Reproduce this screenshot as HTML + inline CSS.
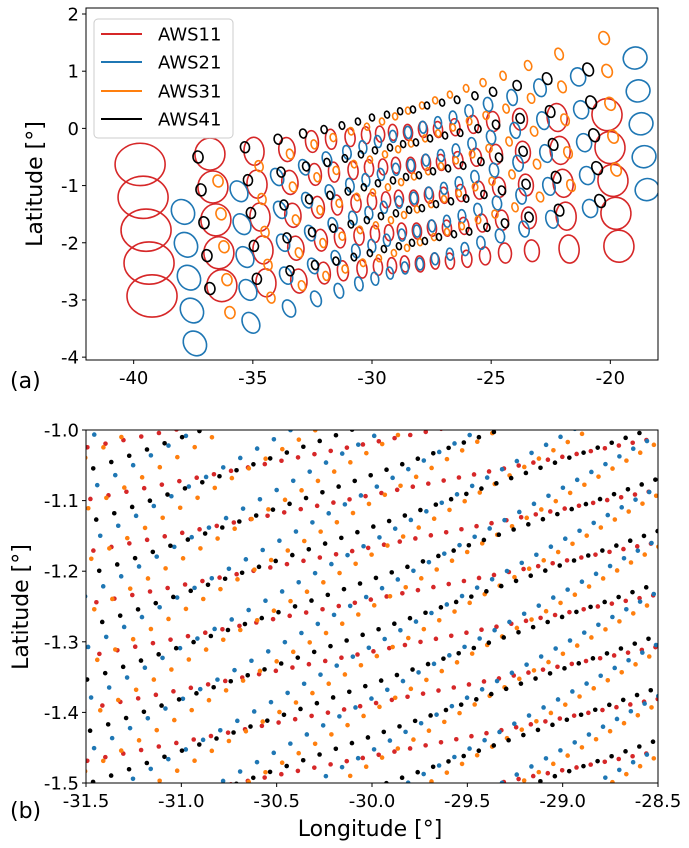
<!DOCTYPE html>
<html><head><meta charset="utf-8"><style>
html,body{margin:0;padding:0;background:#fff}
svg{display:block;font-family:"DejaVu Sans","Liberation Sans",sans-serif}
</style></head><body>
<svg id="fig" xmlns="http://www.w3.org/2000/svg" width="689" height="848" viewBox="0 0 689 848">
<defs>
<clipPath id="clipA"><rect x="86" y="8" width="572" height="352"/></clipPath>
<clipPath id="clipB"><rect x="86" y="430" width="572" height="353"/></clipPath>
</defs>
<rect x="0" y="0" width="689" height="848" fill="#fff"/>
<g id="panelA">
<g id="marksA" clip-path="url(#clipA)"></g>
<rect x="86" y="8" width="572" height="352" fill="none" stroke="#000" stroke-width="1"/>
<g id="ticksA"></g>
<text x="36" y="184" font-size="22" text-anchor="middle" transform="rotate(-90 36 184)" dominant-baseline="middle">Latitude [°]</text>
<text x="10" y="388" font-size="22">(a)</text>
<g>
<rect x="94" y="19" width="139" height="119" rx="4" fill="#fff" fill-opacity="0.85" stroke="#ccc" stroke-width="1"/>
<line x1="101" y1="34" x2="142" y2="34" stroke="#d62728" stroke-width="2"/>
<text x="158" y="40.5" font-size="18">AWS11</text>
<line x1="101" y1="62" x2="142" y2="62" stroke="#1f77b4" stroke-width="2"/>
<text x="158" y="68.5" font-size="18">AWS21</text>
<line x1="101" y1="91" x2="142" y2="91" stroke="#ff7f0e" stroke-width="2"/>
<text x="158" y="97.5" font-size="18">AWS31</text>
<line x1="101" y1="119" x2="142" y2="119" stroke="#000" stroke-width="2"/>
<text x="158" y="125.5" font-size="18">AWS41</text>
</g>
</g>
<g id="panelB">
<g id="marksB" clip-path="url(#clipB)"></g>
<rect x="86" y="430" width="572" height="353" fill="none" stroke="#000" stroke-width="1"/>
<g id="ticksB"></g>
<text x="22" y="607" font-size="22" text-anchor="middle" transform="rotate(-90 22 607)" dominant-baseline="middle">Latitude [°]</text>
<text x="370" y="836" font-size="22" text-anchor="middle">Longitude [°]</text>
<text x="10" y="818" font-size="22">(b)</text>
</g>
</svg>
<script>
// ---------- Panel (a) data: per-column footprint centre of top row, semi-axes (deg), tilt (deg)
const red_lon = [-39.73,-36.80,-34.95,-33.57,-32.52,-31.72,-30.92,-30.25,-29.66,-29.12,-28.49,-27.86,-27.23,-26.52,-25.76,-24.92,-23.79,-22.23,-20.14];
const red_lat = [-0.63,-0.45,-0.40,-0.37,-0.23,-0.19,-0.16,-0.12,-0.10,-0.07,-0.07,-0.02,-0.02,0.02,0.07,0.12,0.16,0.19,0.24];
const red_rx = [1.05,0.63,0.42,0.34,0.27,0.23,0.21,0.19,0.19,0.19,0.19,0.19,0.19,0.21,0.23,0.27,0.31,0.42,0.63];
const red_ry = [0.37,0.28,0.245,0.21,0.19,0.175,0.157,0.149,0.14,0.14,0.14,0.14,0.14,0.149,0.157,0.175,0.19,0.245,0.28];
const red_tilt = [0,0,3,5,5,5,5,5,5,5,5,5,5,5,5,5,5,5,5];

const blue_lon = [-37.93,-35.58,-33.98,-32.85,-31.89,-31.05,-30.38,-29.75,-29.12,-28.49,-27.86,-27.23,-26.60,-25.93,-25.13,-24.12,-22.95,-21.35,-18.96];
const blue_lat = [-1.46,-1.10,-0.85,-0.68,-0.54,-0.42,-0.33,-0.23,-0.14,-0.07,0.02,0.10,0.19,0.30,0.42,0.54,0.71,0.90,1.23];
const blue_rx = [0.46,0.34,0.25,0.21,0.19,0.17,0.16,0.147,0.147,0.147,0.147,0.147,0.16,0.17,0.19,0.21,0.25,0.31,0.5];
const blue_ry = [0.227,0.192,0.157,0.14,0.131,0.122,0.114,0.105,0.105,0.105,0.105,0.105,0.114,0.114,0.122,0.14,0.157,0.16,0.192];
const blue_tilt = [35,30,25,20,15,12,10,8,5,5,5,5,5,8,10,12,15,15,15];

const orange_lon = [-36.46,-34.74,-33.44,-32.43,-31.63,-30.88,-30.21,-29.58,-29.03,-28.49,-27.90,-27.35,-26.73,-26.05,-25.34,-24.50,-23.45,-22.15,-20.26];
const orange_lat = [-0.92,-0.66,-0.45,-0.28,-0.16,-0.05,0.03,0.12,0.21,0.31,0.40,0.49,0.59,0.70,0.80,0.92,1.10,1.30,1.58];
const orange_rx = [0.21,0.168,0.147,0.126,0.126,0.113,0.105,0.105,0.105,0.105,0.105,0.105,0.105,0.113,0.126,0.126,0.147,0.168,0.21];
const orange_ry = [0.105,0.096,0.087,0.079,0.07,0.066,0.061,0.061,0.061,0.061,0.061,0.061,0.061,0.066,0.07,0.079,0.087,0.105,0.117];
const orange_tilt = [15,15,15,12,10,10,10,10,10,10,10,10,10,10,12,15,18,20,22];

const black_lon = [-37.30,-35.33,-33.94,-32.89,-32.01,-31.26,-30.59,-30.00,-29.37,-28.82,-28.28,-27.69,-27.06,-26.43,-25.68,-24.92,-23.91,-22.65,-20.93];
const black_lat = [-0.50,-0.33,-0.19,-0.09,-0.02,0.05,0.12,0.19,0.24,0.30,0.33,0.40,0.45,0.50,0.57,0.64,0.75,0.87,1.03];
const black_rx = [0.21,0.19,0.168,0.147,0.126,0.113,0.105,0.105,0.105,0.105,0.105,0.105,0.105,0.113,0.126,0.147,0.168,0.19,0.21];
const black_ry = [0.105,0.096,0.087,0.079,0.07,0.066,0.061,0.061,0.061,0.061,0.061,0.061,0.061,0.066,0.07,0.079,0.087,0.105,0.117];
const black_tilt = [10,10,12,12,12,12,12,12,12,12,12,12,12,15,15,18,20,22,25];

const rowCount = 5;
const rowDLat = -0.575;
const rowDLon = 0.125;

const xTicksA = [-40,-35,-30,-25,-20];
const yTicksA = [-4,-3,-2,-1,0,1,2];

// ---------- Panel (b) data: scan-line lattice
const b_startLat = [-1.0989,-1.087,-1.1127,-1.058];   // AWS11, AWS21, AWS31, AWS41 at lon -31.5
const b_phaseLon = [-31.477,-31.441,-31.488,-31.462];
const b_slope = [0.054,0.15,0.155,0.095];
const b_lineSpacing = [0.074,0.074,0.074,0.074];
const b_lineLonShift = [0.0157,0.0157,0.0157,0.0157];
const b_stepLeft = [0.095,0.095,0.095,0.095];
const b_stepRight = [0.071,0.071,0.071,0.071];

const xTicksB = [-31.5,-31.0,-30.5,-30.0,-29.5,-29.0,-28.5];
const yTicksB = [-1.5,-1.4,-1.3,-1.2,-1.1,-1.0];

const colors = ['#d62728','#1f77b4','#ff7f0e','#000000'];
const seriesKeys = ['aws11','aws21','aws31','aws41'];

const NS='http://www.w3.org/2000/svg';
function mk(tag){return document.createElementNS(NS,tag);}

// axis functions
const xA = lon => 86 + (lon + 42) * 572 / 24;
const yA = lat => 8 + (2.105 - lat) * 57.19;
const sxA = 572/24, syA = 57.19;
const xB = lon => 86 + (lon + 31.5) * 572 / 3;
const yB = lat => 430 + (-1 - lat) * 706;

// ---- panel a marks
const gA = document.getElementById('marksA');
const seriesA = [
 [red_lon,red_lat,red_rx,red_ry,red_tilt],
 [blue_lon,blue_lat,blue_rx,blue_ry,blue_tilt],
 [orange_lon,orange_lat,orange_rx,orange_ry,orange_tilt],
 [black_lon,black_lat,black_rx,black_ry,black_tilt]
];
seriesA.forEach((s,si)=>{
  const g = mk('g');
  
  
  const [lo,la,rx,ry,tl] = s;
  for(let c=0;c<lo.length;c++){
    for(let r=0;r<rowCount;r++){
      const e = mk('ellipse');
      
      
      const cx = xA(lo[c] + r*rowDLon), cy = yA(la[c] + r*rowDLat);
      e.setAttribute('cx', cx.toFixed(2));
      e.setAttribute('cy', cy.toFixed(2));
      e.setAttribute('rx', (rx[c]*sxA).toFixed(2));
      e.setAttribute('ry', (ry[c]*syA).toFixed(2));
      e.setAttribute('transform', 'rotate(' + (-tl[c]) + ' ' + cx.toFixed(2) + ' ' + cy.toFixed(2) + ')');
      e.setAttribute('fill', 'none');
      e.setAttribute('stroke', colors[si]);
      e.setAttribute('stroke-width', '1.6');
      g.appendChild(e);
    }
  }
  gA.appendChild(g);
});

// ---- panel b marks
const gB = document.getElementById('marksB');
for(let si=0;si<4;si++){
  const g = mk('g');
  
  
  const maxJ = Math.ceil((0.5 + b_slope[si]*3 + 0.12) / b_lineSpacing[si]) + 1;
  for(let j=-1;j<=maxJ;j++){
    const lat0 = b_startLat[si] - j*b_lineSpacing[si];
    let step0 = b_stepLeft[si];
    let lon = b_phaseLon[si] + ((j*b_lineLonShift[si]) % step0 + step0) % step0;
    while(lon - step0 > -31.56) lon -= step0;
    while(lon < -28.44){
      const lat = lat0 + b_slope[si]*(lon + 31.5);
      if(lat <= -0.99 && lat >= -1.51){
        const d = mk('circle');
        
        
        d.setAttribute('cx', xB(lon).toFixed(2));
        d.setAttribute('cy', yB(lat).toFixed(2));
        d.setAttribute('r', '2.3');
        d.setAttribute('fill', colors[si]);
        g.appendChild(d);
      }
      const f = (lon + 31.5)/3;
      lon += b_stepLeft[si] + (b_stepRight[si]-b_stepLeft[si])*Math.max(0,Math.min(1,f));
    }
  }
  gB.appendChild(g);
}

// ---- ticks
function ticks(gid, xt, yt, xf, yf, bottom, left, fmt){
  const g = document.getElementById(gid);
  xt.forEach(v=>{
    const x = xf(v);
    const l = mk('line');
    
    
    l.setAttribute('x1', x); l.setAttribute('x2', x);
    l.setAttribute('y1', bottom); l.setAttribute('y2', bottom + 4);
    l.setAttribute('stroke', '#000');
    g.appendChild(l);
    const t = mk('text');
    
    
    t.setAttribute('x', x); t.setAttribute('y', bottom + 24);
    t.setAttribute('font-size', '18');
    t.setAttribute('text-anchor', 'middle');
    t.textContent = fmt(v);
    g.appendChild(t);
  });
  yt.forEach(v=>{
    const y = yf(v);
    const l = mk('line');
    
    
    l.setAttribute('x1', left - 4); l.setAttribute('x2', left);
    l.setAttribute('y1', y); l.setAttribute('y2', y);
    l.setAttribute('stroke', '#000');
    g.appendChild(l);
    const t = mk('text');
    
    
    t.setAttribute('x', left - 7); t.setAttribute('y', y + 6.5);
    t.setAttribute('font-size', '18');
    t.setAttribute('text-anchor', 'end');
    t.textContent = fmt(v);
    g.appendChild(t);
  });
}
ticks('ticksA', xTicksA, yTicksA, xA, yA, 360, 86, v=>String(v));
ticks('ticksB', xTicksB, yTicksB, xB, yB, 783, 86, v=>v.toFixed(1));
</script>
</body></html>
